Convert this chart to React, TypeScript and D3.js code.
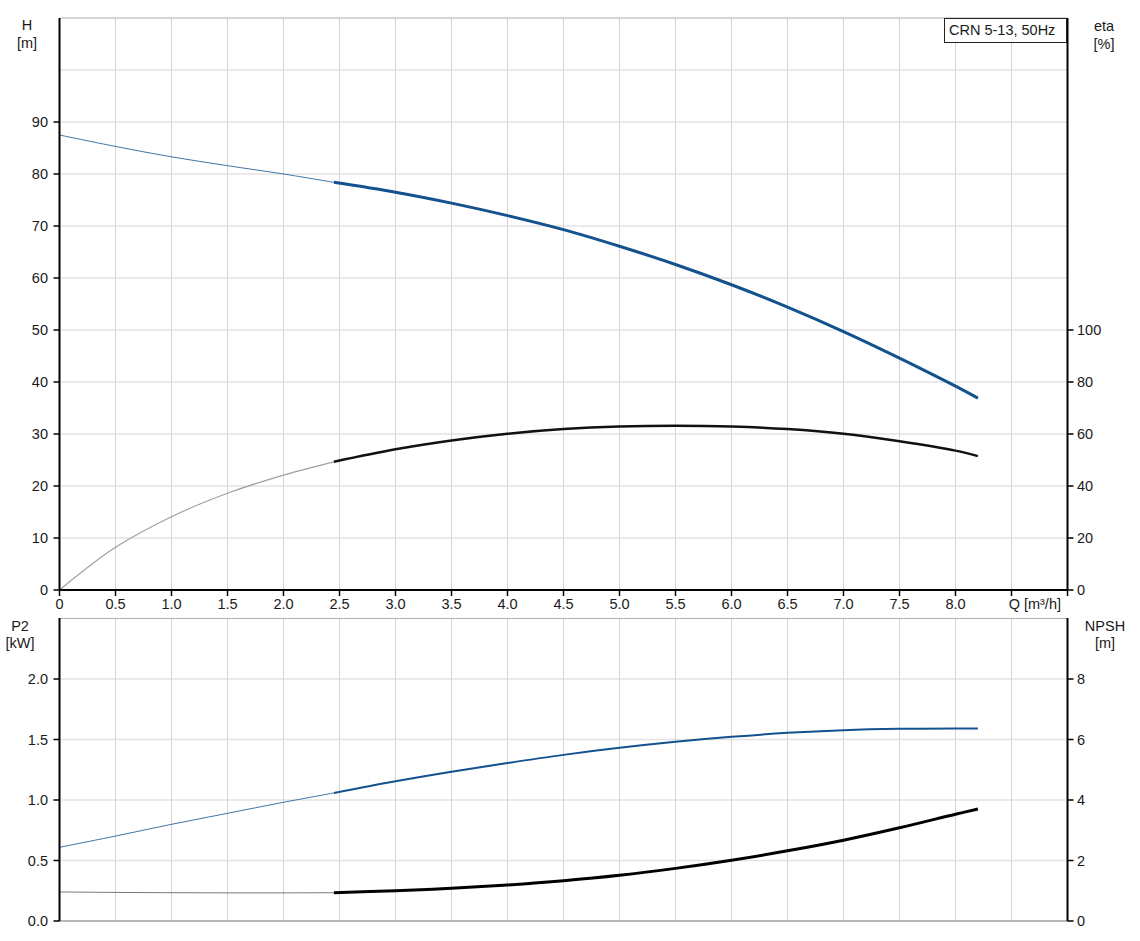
import React from "react";
import * as d3 from "d3";

const qThin = [0, 0.5, 1.0, 1.5, 2.0, 2.45];
const qThick = [2.45, 3.0, 3.5, 4.0, 4.5, 5.0, 5.5, 6.0, 6.5, 7.0, 7.5, 8.0, 8.2];

const headThin = [87.5, 85.3, 83.3, 81.6, 80.0, 78.4];
const headThick = [78.4, 76.5, 74.4, 72.0, 69.3, 66.1, 62.6, 58.7, 54.4, 49.7, 44.6, 39.2, 36.9];

const etaThin = [0, 16.4, 28.2, 37.2, 44.2, 49.3];
const etaThick = [49.3, 54.1, 57.5, 60.1, 61.9, 62.9, 63.2, 62.9, 61.9, 60.1, 57.2, 53.6, 51.5];

const p2Thin = [0.609, 0.702, 0.799, 0.89, 0.981, 1.058];
const p2Thick = [1.058, 1.155, 1.234, 1.306, 1.373, 1.431, 1.481, 1.522, 1.555, 1.577, 1.588, 1.591, 1.591];

const npshThin = [0.96, 0.945, 0.935, 0.93, 0.93, 0.935];
const npshThick = [0.935, 1.0, 1.08, 1.19, 1.33, 1.51, 1.74, 2.01, 2.32, 2.67, 3.08, 3.53, 3.7];

const xTicks = [0, 0.5, 1.0, 1.5, 2.0, 2.5, 3.0, 3.5, 4.0, 4.5, 5.0, 5.5, 6.0, 6.5, 7.0, 7.5, 8.0, 8.5, 9.0];
const xTickLabels = ["0", "0.5", "1.0", "1.5", "2.0", "2.5", "3.0", "3.5", "4.0", "4.5", "5.0", "5.5", "6.0", "6.5", "7.0", "7.5", "8.0"];
const hTicks = [0, 10, 20, 30, 40, 50, 60, 70, 80, 90];
const hGrid = [10, 20, 30, 40, 50, 60, 70, 80, 90, 100];
const etaTicks = [0, 20, 40, 60, 80, 100];
const p2Ticks = [0, 0.5, 1.0, 1.5, 2.0];
const p2Labels = ["0.0", "0.5", "1.0", "1.5", "2.0"];
const npshTicks = [0, 2, 4, 6, 8];

const legendText = "CRN 5-13, 50Hz";
const xUnit = "Q [m³/h]";

const FONT = "'Liberation Sans', Arial, sans-serif";
const BLUE = "#14518f";
const TXT = "#1a1a1a";
const FS = 14.5;

export default function App() {
  const x = d3.scaleLinear().domain([0, 9]).range([59.5, 1067.5]);
  const yH = d3.scaleLinear().domain([0, 110]).range([590, 18]);
  const yEta = d3.scaleLinear().domain([0, 220]).range([590, 18]);
  const yP = d3.scaleLinear().domain([0, 2.5]).range([921, 618.5]);
  const yN = d3.scaleLinear().domain([0, 10]).range([921, 618.5]);

  const mk = (ys: d3.ScaleLinear<number, number>, qs: number[], vs: number[]) =>
    d3
      .line<number>()
      .x((_, i) => x(qs[i]))
      .y((v) => ys(v))
      .curve(d3.curveCatmullRom.alpha(0.5))(vs) || "";

  const [x0, x1] = x.range();
  const innerX = xTicks.filter((t) => t > 0 && t < 9);

  return (
    <svg
      width={1140}
      height={941}
      style={{ position: "absolute", left: 0, top: 0, background: "#fff" }}
      fontFamily={FONT}
    >
      {/* ===== Top panel ===== */}
      <g>
        {hGrid.map((t) => (
          <line key={"hg" + t} x1={x0} x2={x1} y1={yH(t)} y2={yH(t)} stroke="#e3e3e3" strokeWidth={1.6} />
        ))}
        {innerX.map((t) => (
          <line key={"vg" + t} x1={x(t)} x2={x(t)} y1={yH(110)} y2={yH(0)} stroke="#d4d4d4" strokeWidth={1} />
        ))}
        <line x1={x0} x2={x1} y1={yH(110)} y2={yH(110)} stroke="#b0b0b0" strokeWidth={1} />
        {/* curves */}
        <path d={mk(yH, qThin, headThin)} fill="none" stroke={BLUE} strokeWidth={1} opacity={0.8} />
        <path d={mk(yH, qThick, headThick)} fill="none" stroke={BLUE} strokeWidth={3} />
        <path d={mk(yEta, qThin, etaThin)} fill="none" stroke="#a0a0a0" strokeWidth={1.2} />
        <path d={mk(yEta, qThick, etaThick)} fill="none" stroke="#111" strokeWidth={2.5} />
        {/* axes */}
        <line x1={x0} x2={x0} y1={18} y2={590} stroke="#000" strokeWidth={2} />
        <line x1={x1} x2={x1} y1={18} y2={590} stroke="#000" strokeWidth={2} />
        <line x1={x0} x2={x1} y1={590} y2={590} stroke="#000" strokeWidth={2} />
        {hTicks.map((t) => (
          <g key={"ht" + t}>
            <line x1={x0 - 6} x2={x0} y1={yH(t)} y2={yH(t)} stroke="#000" strokeWidth={1.5} />
            <text x={48} y={yH(t) + 5} textAnchor="end" fontSize={FS} fill={TXT}>
              {t}
            </text>
          </g>
        ))}
        {etaTicks.map((t) => (
          <g key={"et" + t}>
            <line x1={x1} x2={x1 + 6} y1={yEta(t)} y2={yEta(t)} stroke="#000" strokeWidth={1.5} />
            <text x={1077} y={yEta(t) + 5} textAnchor="start" fontSize={FS} fill={TXT}>
              {t}
            </text>
          </g>
        ))}
        {xTicks.map((t) => (
          <line key={"xt" + t} x1={x(t)} x2={x(t)} y1={590} y2={596} stroke="#000" strokeWidth={1.5} />
        ))}
        {xTickLabels.map((l, i) => (
          <text key={"xl" + l} x={x(xTicks[i])} y={609} textAnchor="middle" fontSize={FS} fill={TXT}>
            {l}
          </text>
        ))}
        <text x={1061} y={609} textAnchor="end" fontSize={FS} fill={TXT}>
          {xUnit}
        </text>
        {/* axis titles */}
        <text x={27} y={30} textAnchor="middle" fontSize={FS} fill={TXT}>H</text>
        <text x={27} y={48} textAnchor="middle" fontSize={FS} fill={TXT}>[m]</text>
        <text x={1104} y={31} textAnchor="middle" fontSize={FS} fill={TXT}>eta</text>
        <text x={1104} y={49} textAnchor="middle" fontSize={FS} fill={TXT}>[%]</text>
        {/* legend */}
        <rect x={944.5} y={18.5} width={122} height={24} fill="#fff" stroke="#222" strokeWidth={1} />
        <text x={949} y={35} fontSize={FS} fill={TXT}>
          {legendText}
        </text>
      </g>

      {/* ===== Bottom panel ===== */}
      <g>
        {p2Ticks.filter((t) => t > 0).map((t) => (
          <line key={"pg" + t} x1={x0} x2={x1} y1={yP(t)} y2={yP(t)} stroke="#e3e3e3" strokeWidth={1.6} />
        ))}
        {innerX.map((t) => (
          <line key={"bvg" + t} x1={x(t)} x2={x(t)} y1={yP(2.5)} y2={yP(0)} stroke="#d4d4d4" strokeWidth={1} />
        ))}
        <line x1={x0} x2={x1} y1={yP(2.5)} y2={yP(2.5)} stroke="#b0b0b0" strokeWidth={1} />
        <line x1={x0} x2={x1} y1={yP(0)} y2={yP(0)} stroke="#b8b8b8" strokeWidth={2} />
        <path d={mk(yP, qThin, p2Thin)} fill="none" stroke={BLUE} strokeWidth={1} opacity={0.8} />
        <path d={mk(yP, qThick, p2Thick)} fill="none" stroke={BLUE} strokeWidth={2} />
        <path d={mk(yN, qThin, npshThin)} fill="none" stroke="#555" strokeWidth={1} opacity={0.8} />
        <path d={mk(yN, qThick, npshThick)} fill="none" stroke="#000" strokeWidth={3} />
        <line x1={x0} x2={x0} y1={618} y2={921} stroke="#000" strokeWidth={2} />
        <line x1={x1} x2={x1} y1={618} y2={921} stroke="#000" strokeWidth={2} />
        {p2Ticks.map((t, i) => (
          <g key={"pt" + t}>
            <line x1={x0 - 6} x2={x0} y1={yP(t)} y2={yP(t)} stroke="#000" strokeWidth={1.5} />
            <text x={48} y={yP(t) + 5} textAnchor="end" fontSize={FS} fill={TXT}>
              {p2Labels[i]}
            </text>
          </g>
        ))}
        {npshTicks.map((t) => (
          <g key={"nt" + t}>
            <line x1={x1} x2={x1 + 6} y1={yN(t)} y2={yN(t)} stroke="#000" strokeWidth={1.5} />
            <text x={1077} y={yN(t) + 5} textAnchor="start" fontSize={FS} fill={TXT}>
              {t}
            </text>
          </g>
        ))}
        <text x={20} y={631} textAnchor="middle" fontSize={FS} fill={TXT}>P2</text>
        <text x={20} y={648} textAnchor="middle" fontSize={FS} fill={TXT}>[kW]</text>
        <text x={1105} y={631} textAnchor="middle" fontSize={FS} fill={TXT}>NPSH</text>
        <text x={1105} y={648} textAnchor="middle" fontSize={FS} fill={TXT}>[m]</text>
      </g>
    </svg>
  );
}
